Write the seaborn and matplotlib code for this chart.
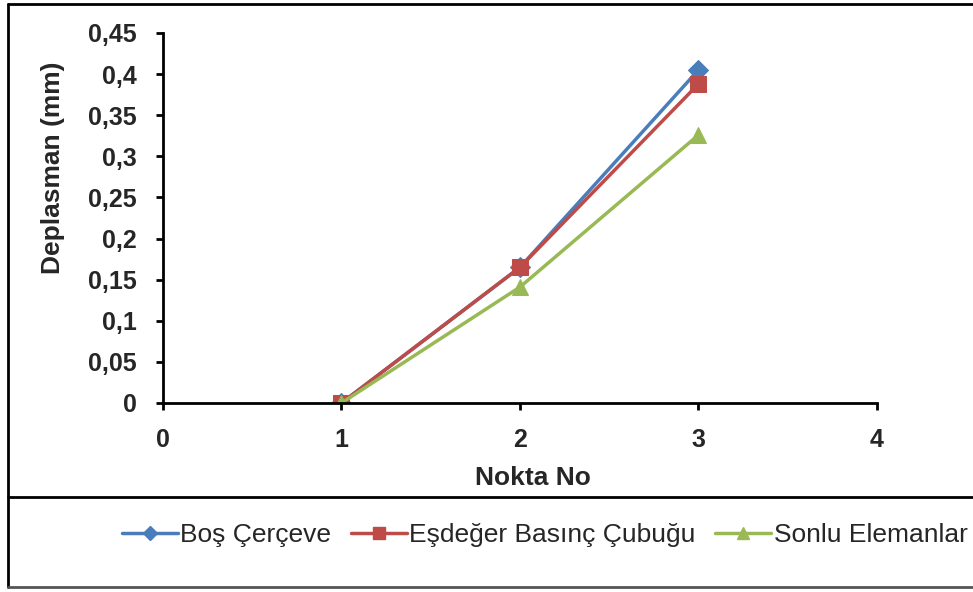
import numpy as np
import pandas as pd
import matplotlib
matplotlib.use("Agg")
import matplotlib.pyplot as plt
from matplotlib.lines import Line2D
from matplotlib.ticker import FuncFormatter
import seaborn as sns

# Data
# ==================================================
nokta = [1, 2, 3]
bos_cerceve = [0.0, 0.165, 0.405]
esdeger = [0.0, 0.165, 0.388]
sonlu = [0.0, 0.141, 0.326]

series_names = ["Boş Çerçeve", "Eşdeğer Basınç Çubuğu", "Sonlu Elemanlar"]
colors = ["#4A7EBB", "#BE4B48", "#98B954"]
markers = ["D", "s", "^"]
msizes = [10, 11, 11]

df = pd.DataFrame({
    "Nokta": nokta * 3,
    "Deplasman": bos_cerceve + esdeger + sonlu,
    "seri": [n for n in series_names for _ in nokta],
})

sns.set_style("white")
plt.rcParams["font.family"] = ["Liberation Sans", "DejaVu Sans"]

fig = plt.figure(figsize=(9.73, 5.92), dpi=100)
ax = fig.add_axes([0.1675, 0.3193, 0.7338, 0.625])

for name, c, m, ms in zip(series_names, colors, markers, msizes):
    sub = df[df["seri"] == name]
    sns.lineplot(data=sub, x="Nokta", y="Deplasman", color=c, marker=m,
                 markersize=ms, markeredgecolor=c, linewidth=2.5, ax=ax,
                 label=name, legend=False)

ax.set_xlim(0, 4)
ax.set_ylim(0, 0.45)
ax.set_xticks([0, 1, 2, 3, 4])
ax.set_yticks(np.arange(0, 0.46, 0.05))
ax.yaxis.set_major_formatter(FuncFormatter(lambda v, p: ("%g" % round(v, 2)).replace(".", ",")))
ax.tick_params(axis="both", direction="out", length=5, width=2, color="black",
               labelsize=18, bottom=True, left=True)
ax.tick_params(axis="y", pad=14)
ax.tick_params(axis="x", pad=13)
for lbl in ax.get_xticklabels() + ax.get_yticklabels():
    lbl.set_fontweight("bold")
for s in ["top", "right"]:
    ax.spines[s].set_visible(False)
for s in ["left", "bottom"]:
    ax.spines[s].set_linewidth(2)
    ax.spines[s].set_color("black")

ax.set_xlabel("")
ax.set_ylabel("")
fig.text(0.548, 0.193, "Nokta No", fontsize=19, fontweight="bold",
         ha="center", va="center")
fig.text(0.0545, 0.716, "Deplasman (mm)", fontsize=19, fontweight="bold",
         ha="center", va="center", rotation=90)

# frame around the chart and separator above legend
fig.add_artist(Line2D([0.0082, 0.0082], [0.0084, 0.993], color="black", lw=2))
fig.add_artist(Line2D([0.0082, 1.0], [0.993, 0.993], color="black", lw=2))
fig.add_artist(Line2D([0.0082, 1.0], [0.0084, 0.0084], color="#555555", lw=2))
fig.add_artist(Line2D([0.0082, 1.0], [0.1605, 0.1605], color="black", lw=2))

handles = [Line2D([0], [0], color=c, marker=m, markersize=ms * 0.75, lw=2.5)
           for c, m, ms in zip(colors, markers, msizes)]
fig.legend(handles, series_names, loc="center", bbox_to_anchor=(0.56, 0.096),
           ncol=3, frameon=False, fontsize=19, handlelength=2.1,
           handletextpad=0.1, columnspacing=0.75, borderpad=0, borderaxespad=0)

plt.savefig("out.png", dpi=100)
